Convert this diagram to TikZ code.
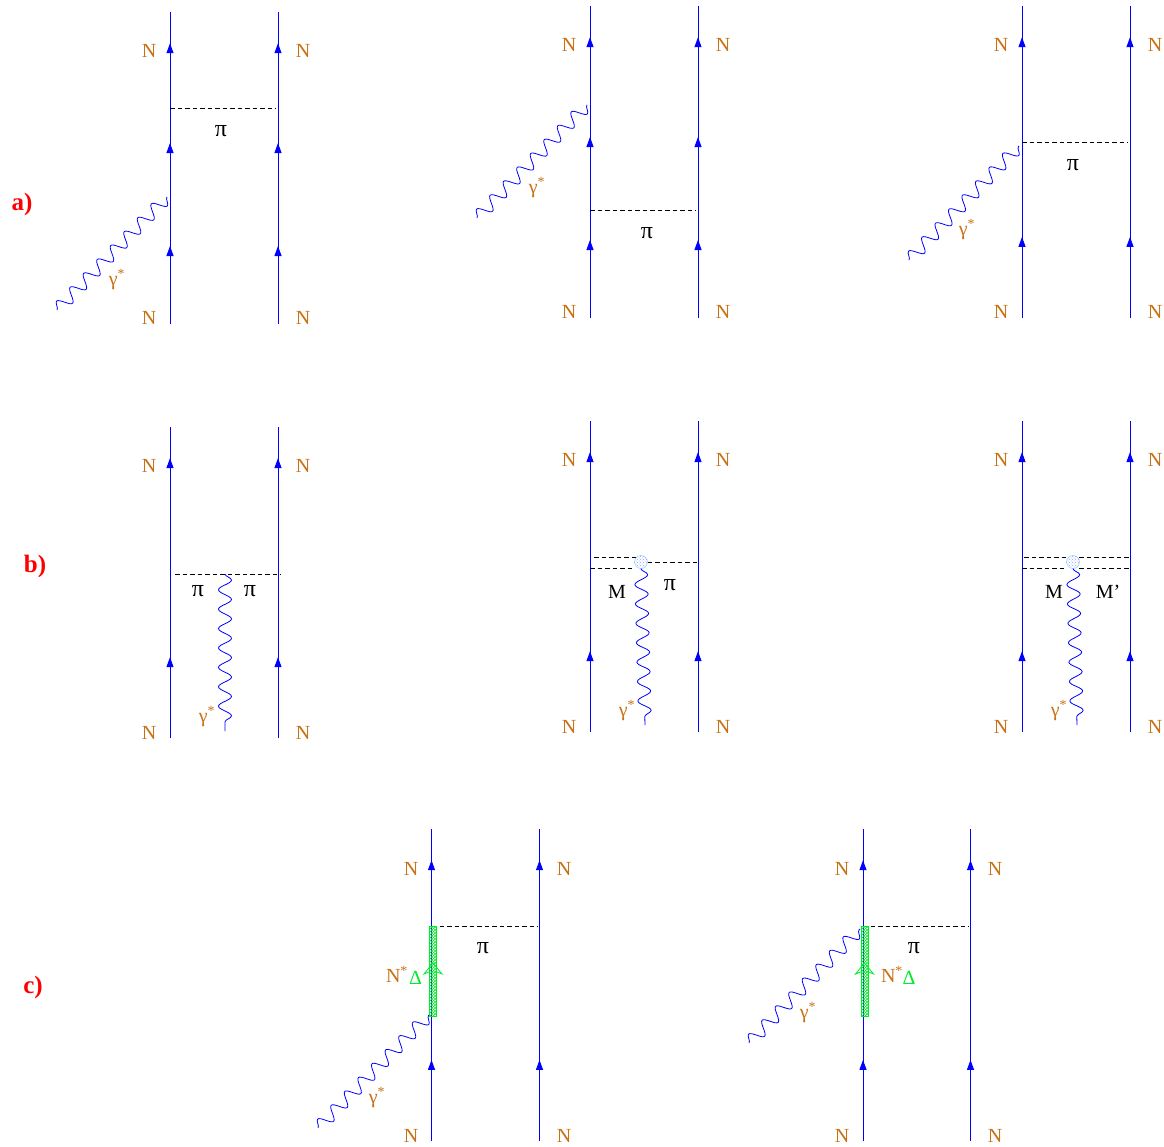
\documentclass[tikz,border=0pt]{standalone}
\usepackage{fontspec}
\setmainfont{Liberation Serif}
\usetikzlibrary{arrows.meta, decorations.markings, decorations.pathmorphing, patterns}
\definecolor{lblorange}{RGB}{200,112,20}
\definecolor{lblgreen}{RGB}{0,235,40}

\begin{document}
\begin{tikzpicture}[
    x=1pt, y=-1pt,
    >={Triangle[length=10pt, width=7pt]},
    nline/.style={draw=blue, line width=1pt},
    nthree/.style={nline, postaction={decorate}, decoration={markings,
        mark=at position 0.90 with {\arrow{>}},
        mark=at position 0.58 with {\arrow{>}},
        mark=at position 0.25 with {\arrow{>}}}},
    ntwo/.style={nline, postaction={decorate}, decoration={markings,
        mark=at position 0.90 with {\arrow{>}},
        mark=at position 0.26 with {\arrow{>}}}},
    meson/.style={draw=black, dash pattern=on 4.5pt off 3pt, line width=0.8pt},
    photon/.style={draw=blue, line width=0.8pt, decorate,
        decoration={snake, segment length=19.4pt, amplitude=6.5pt, post length=0pt}},
    nlbl/.style={text=lblorange, font=\fontsize{20}{22}\selectfont, inner sep=0pt, yshift=-0.5pt},
    mlbl/.style={text=black, font=\fontsize{20}{22}\selectfont, inner sep=0pt, yshift=-0.5pt},
    pilbl/.style={text=black, font=\fontsize{24}{26}\selectfont, inner sep=0pt},
    tag/.style={text=red, font=\fontsize{25}{27}\selectfont\bfseries, inner sep=0pt, yshift=-1.5pt},
    blob/.style={circle, draw=cyan!60, minimum size=13pt, inner sep=0pt,
        pattern=crosshatch dots, pattern color=blue!40},
    resbox/.style={draw=lblgreen, line width=0.8pt, minimum width=7pt, inner sep=0pt,
        pattern=crosshatch, pattern color=lblgreen},
    resarrow/.style={draw=lblgreen, line width=0.8pt}
]
\useasboundingbox (0,0) rectangle (1164,1146);

% Row tags
\node[tag] (taga) at (22,203) {a)};
\node[tag] (tagb) at (35,565) {b)};
\node[tag] (tagc) at (33,986) {c)};

% Diagram a1
\coordinate (a1lb) at (170,324); \coordinate (a1lt) at (170,12);
\coordinate (a1rb) at (278,324); \coordinate (a1rt) at (278,12);
\coordinate (a1pl) at (170,108); \coordinate (a1pr) at (276,108);
\coordinate (a1gs) at (57,310);  \coordinate (a1ge) at (167,197);
\path[nthree] (a1lb) -- (a1lt);
\path[nthree] (a1rb) -- (a1rt);
\draw[meson] (a1pl) -- (a1pr);
\draw[photon] (a1gs) -- (a1ge);
\node[nlbl] (a1nw) at (149,50) {N};
\node[nlbl] (a1ne) at (303,50) {N};
\node[nlbl] (a1sw) at (149,317) {N};
\node[nlbl] (a1se) at (303,317) {N};
\node[pilbl] (a1pi) at (221,131) {π};
\node[nlbl] (a1g) at (117,279) {γ\textsuperscript{*}};

% Diagram a2
\coordinate (a2lb) at (590,318); \coordinate (a2lt) at (590,6);
\coordinate (a2rb) at (698,318); \coordinate (a2rt) at (698,6);
\coordinate (a2pl) at (590,210); \coordinate (a2pr) at (696,210);
\coordinate (a2gs) at (477,218); \coordinate (a2ge) at (587,105);
\path[nthree] (a2lb) -- (a2lt);
\path[nthree] (a2rb) -- (a2rt);
\draw[meson] (a2pl) -- (a2pr);
\draw[photon] (a2gs) -- (a2ge);
\node[nlbl] (a2nw) at (569,44) {N};
\node[nlbl] (a2ne) at (723,44) {N};
\node[nlbl] (a2sw) at (569,311) {N};
\node[nlbl] (a2se) at (723,311) {N};
\node[pilbl] (a2pi) at (647,233) {π};
\node[nlbl] (a2g) at (537,187) {γ\textsuperscript{*}};

% Diagram a3
\coordinate (a3lb) at (1022,318); \coordinate (a3lt) at (1022,6);
\coordinate (a3rb) at (1130,318); \coordinate (a3rt) at (1130,6);
\coordinate (a3pl) at (1022,142); \coordinate (a3pr) at (1128,142);
\coordinate (a3gs) at (909,260);  \coordinate (a3ge) at (1019,146);
\path[ntwo] (a3lb) -- (a3lt);
\path[ntwo] (a3rb) -- (a3rt);
\draw[meson] (a3pl) -- (a3pr);
\draw[photon] (a3gs) -- (a3ge);
\node[nlbl] (a3nw) at (1001,44) {N};
\node[nlbl] (a3ne) at (1155,44) {N};
\node[nlbl] (a3sw) at (1001,311) {N};
\node[nlbl] (a3se) at (1155,311) {N};
\node[pilbl] (a3pi) at (1073,165) {π};
\node[nlbl] (a3g) at (967,229) {γ\textsuperscript{*}};

% Diagram b1
\coordinate (b1lb) at (170,738); \coordinate (b1lt) at (170,427);
\coordinate (b1rb) at (278,738); \coordinate (b1rt) at (278,427);
\coordinate (b1pl) at (175,574); \coordinate (b1pr) at (281,574);
\coordinate (b1gs) at (225,574); \coordinate (b1ge) at (225,731);
\path[ntwo] (b1lb) -- (b1lt);
\path[ntwo] (b1rb) -- (b1rt);
\draw[meson] (b1pl) -- (b1pr);
\draw[photon] (b1gs) -- (b1ge);
\node[nlbl] (b1nw) at (149,465) {N};
\node[nlbl] (b1ne) at (303,465) {N};
\node[nlbl] (b1sw) at (149,732) {N};
\node[nlbl] (b1se) at (303,732) {N};
\node[pilbl] (b1pi) at (198,591) {π};
\node[pilbl] (b1pj) at (250,591) {π};
\node[nlbl] (b1g) at (207,716) {γ\textsuperscript{*}};

% Diagram b2
\coordinate (b2lb) at (590,732); \coordinate (b2lt) at (590,421);
\coordinate (b2rb) at (698,732); \coordinate (b2rt) at (698,421);
\coordinate (b2ua) at (594,557); \coordinate (b2ub) at (636,557);
\coordinate (b2la) at (590,568); \coordinate (b2lc) at (634,568);
\coordinate (b2pr) at (698,562);
\coordinate (b2ge) at (645,725);
\path[ntwo] (b2lb) -- (b2lt);
\path[ntwo] (b2rb) -- (b2rt);
\node[blob] (b2v) at (641,562) {};
\draw[meson] (b2ua) -- (b2ub);
\draw[meson] (b2la) -- (b2lc);
\draw[meson] (b2v) -- (b2pr);
\draw[photon] (b2v.south) -- (b2ge);
\node[nlbl] (b2nw) at (569,459) {N};
\node[nlbl] (b2ne) at (723,459) {N};
\node[nlbl] (b2sw) at (569,726) {N};
\node[nlbl] (b2se) at (723,726) {N};
\node[mlbl] (b2m) at (617,591) {M};
\node[pilbl] (b2pi) at (670,585) {π};
\node[nlbl] (b2g) at (627,710) {γ\textsuperscript{*}};

% Diagram b3
\coordinate (b3lb) at (1022,732); \coordinate (b3lt) at (1022,421);
\coordinate (b3rb) at (1130,732); \coordinate (b3rt) at (1130,421);
\coordinate (b3ua) at (1024,557); \coordinate (b3ub) at (1067,557);
\coordinate (b3la) at (1022,568); \coordinate (b3lc) at (1066,568);
\coordinate (b3uc) at (1079,557); \coordinate (b3ud) at (1130,557);
\coordinate (b3ld) at (1079,568); \coordinate (b3le) at (1130,568);
\coordinate (b3ge) at (1077,725);
\path[ntwo] (b3lb) -- (b3lt);
\path[ntwo] (b3rb) -- (b3rt);
\node[blob] (b3v) at (1073,562) {};
\draw[meson] (b3ua) -- (b3ub);
\draw[meson] (b3la) -- (b3lc);
\draw[meson] (b3uc) -- (b3ud);
\draw[meson] (b3ld) -- (b3le);
\draw[photon] (b3v.south) -- (b3ge);
\node[nlbl] (b3nw) at (1001,459) {N};
\node[nlbl] (b3ne) at (1155,459) {N};
\node[nlbl] (b3sw) at (1001,726) {N};
\node[nlbl] (b3se) at (1155,726) {N};
\node[mlbl] (b3m) at (1054,591) {M};
\node[mlbl] (b3mp) at (1108,591) {M'};
\node[nlbl] (b3g) at (1059,710) {γ\textsuperscript{*}};

% Diagram c1
\coordinate (c1lb) at (431.5,1141); \coordinate (c1lt) at (431.5,829);
\coordinate (c1rb) at (539.5,1141); \coordinate (c1rt) at (539.5,829);
\coordinate (c1pl) at (432,926);  \coordinate (c1pr) at (538,926);
\coordinate (c1gs) at (318,1128); \coordinate (c1ge) at (429,1015);
\path[ntwo] (c1lb) -- (c1lt);
\path[ntwo] (c1rb) -- (c1rt);
\draw[meson] (c1pl) -- (c1pr);
\draw[photon] (c1gs) -- (c1ge);
\node[resbox, minimum height=90pt] (c1res) at (433,971) {};
\draw[resarrow] (433,963) -- (424,974) -- (429,972) -- (437,972) -- (442,974) -- cycle;
\node[nlbl] (c1nw) at (411,868) {N};
\node[nlbl] (c1ne) at (564,868) {N};
\node[nlbl] (c1sw) at (411,1135) {N};
\node[nlbl] (c1se) at (564,1135) {N};
\node[pilbl] (c1pi) at (483,948) {π};
\node[nlbl] (c1ns) at (397,974) {N\textsuperscript{*}};
\node[nlbl, text=lblgreen] (c1d) at (415.5,977) {Δ};
\node[nlbl] (c1g) at (377,1097) {γ\textsuperscript{*}};

% Diagram c2
\coordinate (c2lb) at (863,1141); \coordinate (c2lt) at (863,829);
\coordinate (c2rb) at (970.5,1141); \coordinate (c2rt) at (970.5,829);
\coordinate (c2pl) at (863,926);  \coordinate (c2pr) at (969,926);
\coordinate (c2gs) at (749,1043); \coordinate (c2ge) at (860,929);
\path[ntwo] (c2lb) -- (c2lt);
\path[ntwo] (c2rb) -- (c2rt);
\draw[meson] (c2pl) -- (c2pr);
\draw[photon] (c2gs) -- (c2ge);
\node[resbox, minimum height=90pt] (c2res) at (864.5,971) {};
\draw[resarrow] (864.5,963) -- (855.5,974) -- (860.5,972) -- (868.5,972) -- (873.5,974) -- cycle;
\node[nlbl] (c2nw) at (842,868) {N};
\node[nlbl] (c2ne) at (995,868) {N};
\node[nlbl] (c2sw) at (842,1135) {N};
\node[nlbl] (c2se) at (995,1135) {N};
\node[pilbl] (c2pi) at (914,948) {π};
\node[nlbl] (c2ns) at (892,974) {N\textsuperscript{*}};
\node[nlbl, text=lblgreen] (c2d) at (909,977) {Δ};
\node[nlbl] (c2g) at (808,1012) {γ\textsuperscript{*}};

\end{tikzpicture}
\end{document}
